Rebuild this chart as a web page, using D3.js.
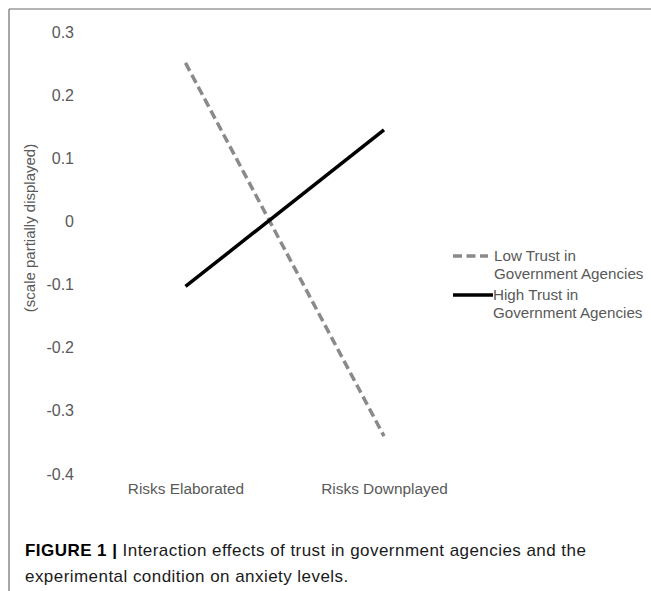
<!DOCTYPE html>
<html>
<head>
<meta charset="utf-8">
<script src="https://cdn.jsdelivr.net/npm/d3@7"></script>
<style>
  body { margin: 0; background: #fff; }
  svg { display: block; font-family: "Liberation Sans", Arial, sans-serif; }
</style>
</head>
<body>
<svg id="chart" width="651" height="591"></svg>
<script>
// conditions on the x axis
const conditions = ["Risks Elaborated", "Risks Downplayed"];
// values per trust group
const lowTrust = [0.251, -0.340];
const highTrust = [-0.103, 0.145];
// y axis ticks
const yTicks = [0.3, 0.2, 0.1, 0, -0.1, -0.2, -0.3, -0.4];
// legend labels (two lines each)
const legendLabels = [
  ["Low Trust in", "Government Agencies"],
  ["High Trust in", "Government Agencies"]
];

const series = [
  { name: "low", values: lowTrust, color: "#8a8a8a", dash: "9,4.5" },
  { name: "high", values: highTrust, color: "#000000", dash: null }
];

const svg = d3.select("#chart");

// frame: top and left edges only
svg.append("line")
  .attr("x1", 9).attr("y1", 9).attr("x2", 651).attr("y2", 9)
  .attr("stroke", "#6b6b6b").attr("stroke-width", 1.2);
svg.append("line")
  .attr("x1", 9).attr("y1", 9).attr("x2", 9).attr("y2", 591)
  .attr("stroke", "#6b6b6b").attr("stroke-width", 1.2);

const y = d3.scaleLinear().domain([-0.4, 0.3]).range([474, 32]);
const x = d3.scalePoint().domain(conditions).range([185.5, 384]);

// y axis, labels only
const yAxis = svg.append("g")
  .attr("transform", "translate(74,0)")
  .call(d3.axisLeft(y).tickValues(yTicks).tickSize(0).tickPadding(0)
    .tickFormat(d => d === 0 ? "0" : d.toFixed(1)));
yAxis.select(".domain").remove();
yAxis.selectAll("text")
  .attr("fill", "#595959")
  .attr("font-size", 16)
  .attr("font-family", "Liberation Sans, Arial, sans-serif");

// x axis labels
const xAxis = svg.append("g")
  .attr("transform", "translate(0,483)")
  .call(d3.axisBottom(x).tickSize(0).tickPadding(0));
xAxis.select(".domain").remove();
xAxis.selectAll("text")
  .attr("fill", "#595959")
  .attr("font-size", 15.4)
  .attr("font-family", "Liberation Sans, Arial, sans-serif");

// y title
svg.append("text")
  .attr("transform", "translate(35,228) rotate(-90)")
  .attr("text-anchor", "middle")
  .attr("fill", "#595959")
  .attr("font-size", 15)
  .text("(scale partially displayed)");

// lines
const line = d3.line()
  .x((d, i) => x(conditions[i]))
  .y(d => y(d));

svg.selectAll(".series")
  .data(series)
  .join("path")
  .attr("class", "series")
  .attr("d", d => line(d.values))
  .attr("fill", "none")
  .attr("stroke", d => d.color)
  .attr("stroke-width", 3.5)
  .attr("stroke-dasharray", d => d.dash);

// legend
const legend = svg.append("g");
const legendRows = [256, 295];
series.forEach((s, i) => {
  const g = legend.append("g").attr("transform", "translate(453," + legendRows[i] + ")");
  g.append("line")
    .attr("x1", 0).attr("x2", i === 0 ? 35 : 40)
    .attr("y1", 0).attr("y2", 0)
    .attr("stroke", s.color)
    .attr("stroke-width", 3.5)
    .attr("stroke-dasharray", s.dash);
  const t = g.append("text")
    .attr("fill", "#595959")
    .attr("font-size", 15.2);
  legendLabels[i].forEach((txt, j) => {
    t.append("tspan")
      .attr("x", i === 0 ? 41 : 40)
      .attr("y", 5 + j * 17.5)
      .text(txt);
  });
});

// caption
const cap = svg.append("text")
  .attr("x", 25).attr("y", 556)
  .attr("font-size", 17)
  .attr("letter-spacing", 0.45)
  .attr("fill", "#1a1a1a");
cap.append("tspan").attr("font-weight", "bold").attr("fill", "#000").text("FIGURE 1 | ");
cap.append("tspan").text("Interaction effects of trust in government agencies and the");
svg.append("text")
  .attr("x", 25).attr("y", 582)
  .attr("font-size", 17)
  .attr("letter-spacing", 0.45)
  .attr("fill", "#1a1a1a")
  .text("experimental condition on anxiety levels.");
</script>
</body>
</html>
